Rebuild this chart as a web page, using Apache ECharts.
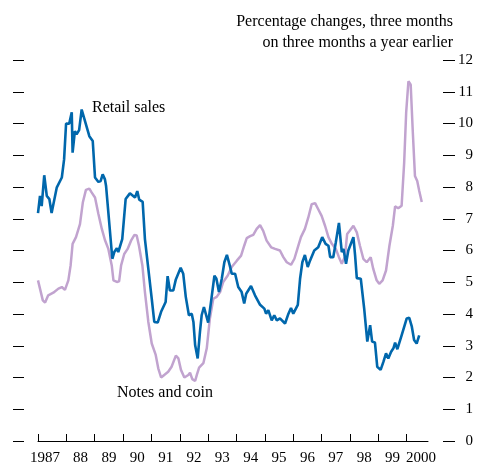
<!DOCTYPE html>
<html>
<head>
<meta charset="utf-8">
<script src="https://cdn.jsdelivr.net/npm/echarts@6/dist/echarts.min.js"></script>
<style>
html,body{margin:0;padding:0;background:#fff;}
#chart{width:477px;height:466px;}
</style>
</head>
<body>
<div id="chart"></div>
<script>
// ---- Data (decimal year, percent) ----
var retailYears = [1987.0,1987.07,1987.13,1987.22,1987.31,1987.40,1987.48,1987.66,1987.84,1987.92,1987.99,
  1988.10,1988.19,1988.22,1988.30,1988.36,1988.45,1988.54,1988.66,1988.81,1988.93,
  1989.01,1989.13,1989.21,1989.28,1989.36,1989.40,1989.48,1989.62,1989.69,1989.78,1989.83,1989.89,1989.97,
  1990.09,1990.24,1990.42,1990.50,1990.57,1990.69,1990.77,1990.89,
  1991.01,1991.10,1991.22,1991.34,1991.50,1991.57,1991.65,1991.77,1991.86,
  1992.03,1992.12,1992.21,1992.32,1992.42,1992.48,1992.54,1992.63,1992.71,1992.77,1992.85,
  1993.00,1993.10,1993.22,1993.29,1993.38,1993.48,1993.57,1993.66,1993.76,1993.83,1993.95,
  1994.06,1994.18,1994.27,1994.34,1994.51,1994.65,1994.83,1994.98,
  1995.04,1995.12,1995.18,1995.24,1995.33,1995.42,1995.53,1995.71,1995.83,1995.92,
  1996.00,1996.16,1996.24,1996.32,1996.41,1996.51,1996.59,1996.74,1996.88,
  1997.02,1997.14,1997.24,1997.30,1997.41,1997.50,1997.61,1997.71,1997.77,1997.86,1997.94,
  1998.12,1998.18,1998.24,1998.38,1998.50,1998.61,1998.71,1998.78,1998.88,1998.96,
  1999.08,1999.18,1999.27,1999.35,1999.45,1999.53,1999.59,1999.67,1999.82,
  2000.00,2000.09,2000.18,2000.26,2000.35,2000.44];
var retailValues = [7.18,7.72,7.40,8.37,7.72,7.62,7.18,7.98,8.30,8.87,10.0,
  9.99,10.35,9.08,9.76,9.66,9.79,10.44,10.07,9.60,9.45,
  8.30,8.16,8.19,8.40,8.24,8.03,7.20,5.74,5.95,6.07,5.95,5.92,6.36,
  7.62,7.80,7.67,7.87,7.60,7.53,6.36,5.42,
  4.48,3.75,3.73,4.07,4.38,5.19,4.74,4.74,5.09,
  5.46,5.27,4.54,3.96,4.01,3.75,3.02,2.60,3.44,3.96,4.22,
  3.73,4.38,5.21,5.11,4.69,5.11,5.63,5.86,5.53,5.27,5.27,
  4.85,4.69,4.33,4.64,4.88,4.59,4.29,4.17,
  4.01,4.12,4.07,3.80,3.96,3.80,3.86,3.70,4.01,4.19,
  4.01,4.29,5.11,5.63,5.86,5.48,5.68,6.00,6.10,
  6.42,6.21,6.15,5.79,5.79,6.26,6.87,5.95,6.05,5.58,6.00,
  6.42,5.84,5.13,5.11,4.17,3.13,3.65,3.13,3.10,2.34,
  2.24,2.50,2.76,2.60,2.81,2.92,3.10,2.89,3.33,
  3.86,3.88,3.60,3.18,3.07,3.33];

var notesYears = [1987.0,1987.07,1987.17,1987.25,1987.36,1987.54,1987.72,1987.84,1987.95,
  1988.07,1988.15,1988.22,1988.34,1988.48,1988.58,1988.69,1988.81,1988.89,
  1989.01,1989.13,1989.25,1989.36,1989.48,1989.60,1989.66,1989.78,1989.86,1989.93,
  1990.04,1990.16,1990.28,1990.40,1990.48,1990.56,1990.68,1990.77,1990.89,
  1991.01,1991.15,1991.24,1991.34,1991.45,1991.59,1991.71,1991.86,1991.95,
  1992.04,1992.16,1992.30,1992.36,1992.44,1992.54,1992.60,1992.68,1992.83,1992.95,
  1993.06,1993.18,1993.30,1993.42,1993.53,1993.69,1993.83,
  1994.01,1994.16,1994.27,1994.36,1994.48,1994.59,1994.71,1994.83,1994.94,
  1995.06,1995.22,1995.36,1995.53,1995.65,1995.77,1995.92,
  1996.04,1996.16,1996.27,1996.41,1996.53,1996.65,1996.77,1996.88,
  1997.00,1997.12,1997.24,1997.36,1997.50,1997.61,1997.71,1997.82,1997.90,1997.99,
  1998.12,1998.24,1998.35,1998.47,1998.59,1998.73,1998.82,1998.94,
  1999.03,1999.15,1999.27,1999.39,1999.51,1999.59,1999.70,1999.82,1999.91,1999.98,
  2000.06,2000.14,2000.21,2000.29,2000.37,2000.44,2000.53];
var notesValues = [5.06,4.80,4.43,4.36,4.59,4.67,4.80,4.85,4.76,
  5.06,5.53,6.21,6.42,6.83,7.51,7.91,7.95,7.83,
  7.67,7.15,6.68,6.33,6.05,5.53,5.06,5.01,5.03,5.53,
  5.89,6.05,6.31,6.49,6.47,6.15,5.53,4.69,3.75,
  3.07,2.71,2.29,2.00,2.08,2.18,2.34,2.69,2.60,
  2.24,2.00,2.08,2.15,1.95,1.89,2.08,2.31,2.45,2.92,
  3.86,4.48,4.54,4.69,5.01,5.21,5.48,
  5.68,5.84,6.15,6.39,6.45,6.49,6.68,6.80,6.62,
  6.31,6.10,6.05,6.00,5.79,5.63,5.55,
  5.74,6.10,6.42,6.68,7.04,7.46,7.49,7.30,
  7.09,6.78,6.42,6.21,6.05,5.79,5.58,5.80,6.52,6.62,
  6.78,6.57,6.15,5.74,5.63,5.79,5.42,5.06,
  4.95,5.06,5.37,6.15,6.78,7.39,7.33,7.41,8.77,10.34,
  11.33,11.22,9.81,8.35,8.19,7.88,7.53];

var yearTicks = [1987,1988,1989,1990,1991,1992,1993,1994,1995,1996,1997,1998,1999,2000];
var yearLabels = ['1987','88','89','90','91','92','93','94','95','96','97','98','99','2000'];
var yearLabelPos = [1987.25,1988.5,1989.5,1990.5,1991.5,1992.5,1993.5,1994.5,1995.5,1996.5,1997.5,1998.5,1999.5,2000.5];
var titleLines = ['Percentage changes, three months', 'on three months a year earlier'];
var retailName = 'Retail sales';
var notesName = 'Notes and coin';

function zip(xs, ys){ var out=[]; for (var i=0;i<xs.length;i++) out.push([xs[i], ys[i]]); return out; }

var FONT = '"Liberation Serif", "Times New Roman", serif';
var chart = echarts.init(document.getElementById('chart'), null, {renderer:'canvas'});

var option = {
  animation: false,
  backgroundColor: '#fff',
  grid: {left: 38, right: 49, top: 60, bottom: 23, containLabel: false},
  xAxis: {
    type: 'value', min: 1987, max: 2000.75,
    axisLine: {show: true, lineStyle: {color: '#000', width: 1}},
    axisTick: {show: true, inside: true, length: 7, lineStyle: {color: '#000', width: 1}, customValues: yearTicks},
    axisLabel: {
      show: true, margin: 10, color: '#000', fontFamily: FONT, fontSize: 15,
      customValues: yearLabelPos,
      formatter: function(v){ var i = Math.floor(v) - 1987; return yearLabels[i] || ''; }
    },
    splitLine: {show: false}
  },
  yAxis: [
    {
      type: 'value', min: 0, max: 12, interval: 1, position: 'right', offset: 15,
      axisLine: {show: false},
      axisTick: {show: true, length: 12, lineStyle: {color: '#000', width: 1}},
      axisLabel: {show: true, margin: 30, align: 'right', color: '#000', fontFamily: FONT, fontSize: 15},
      splitLine: {show: false}
    },
    {
      type: 'value', min: 0, max: 12, interval: 1, position: 'left', offset: 14,
      axisLine: {show: false},
      axisTick: {show: true, length: 11, lineStyle: {color: '#000', width: 1}},
      axisLabel: {show: false},
      splitLine: {show: false}
    }
  ],
  series: [
    {
      name: notesName, type: 'line', yAxisIndex: 0, data: zip(notesYears, notesValues),
      showSymbol: false, symbol: 'none', smooth: false,
      lineStyle: {color: '#c1a3cf', width: 2.5}, z: 2
    },
    {
      name: retailName, type: 'line', yAxisIndex: 0, data: zip(retailYears, retailValues),
      showSymbol: false, symbol: 'none', smooth: false,
      lineStyle: {color: '#0067ac', width: 2.6}, z: 3
    }
  ],
  graphic: [
    {type: 'text', x: 453, y: 22, style: {text: titleLines[0], font: '16px ' + FONT, fill: '#000', align: 'right', verticalAlign: 'middle', textAlign: 'right', textVerticalAlign: 'middle'}},
    {type: 'text', x: 453, y: 43, style: {text: titleLines[1], font: '16px ' + FONT, fill: '#000', align: 'right', verticalAlign: 'middle', textAlign: 'right', textVerticalAlign: 'middle'}},
    {type: 'text', x: 92, y: 108, style: {text: retailName, font: '16px ' + FONT, fill: '#000', align: 'left', verticalAlign: 'middle', textAlign: 'left', textVerticalAlign: 'middle'}},
    {type: 'text', x: 117, y: 393, style: {text: notesName, font: '16px ' + FONT, fill: '#000', align: 'left', verticalAlign: 'middle', textAlign: 'left', textVerticalAlign: 'middle'}}
  ]
};
chart.setOption(option);
</script>
</body>
</html>
